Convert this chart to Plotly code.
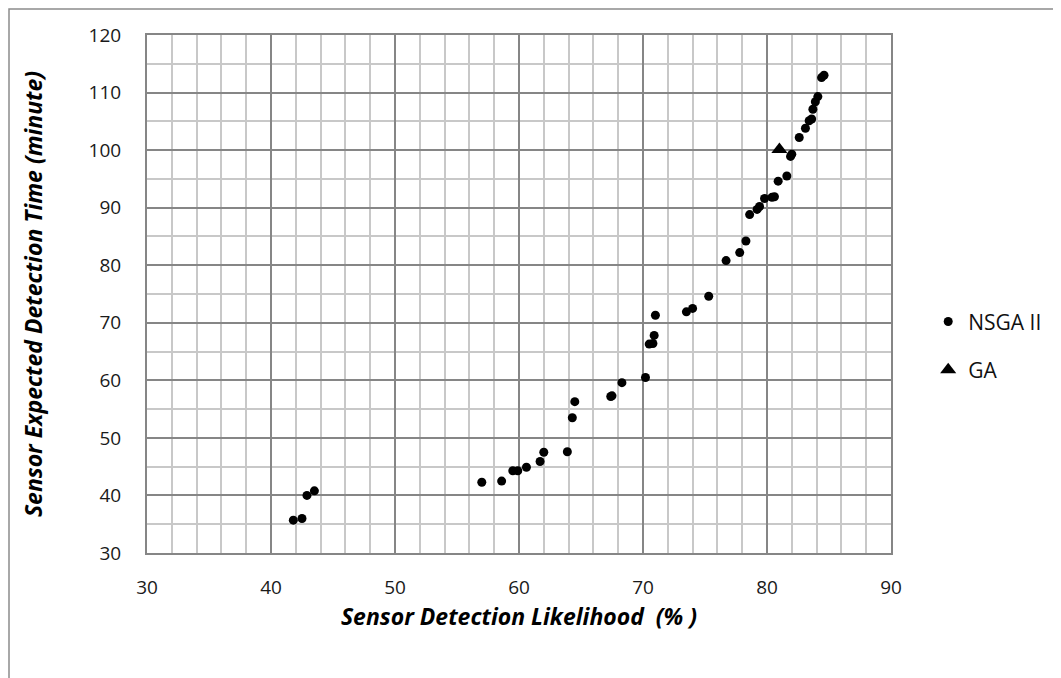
import plotly.graph_objects as go

nsga_x = [41.8, 42.5, 42.9, 43.5, 57.0, 58.6, 59.5, 59.9, 60.6, 61.7, 62.0, 63.9,
          64.3, 64.5, 67.4, 67.5, 68.3, 70.2, 70.5, 70.8, 70.9, 71.0, 73.5, 74.0,
          75.3, 76.7, 77.8, 78.3, 78.6, 79.2, 79.4, 79.8, 80.4, 80.6, 80.9, 81.6,
          81.9, 82.0, 82.6, 83.1, 83.4, 83.6, 83.7, 83.9, 84.1, 84.4, 84.6]
nsga_y = [35.7, 36.0, 40.0, 40.8, 42.3, 42.5, 44.3, 44.3, 44.9, 45.9, 47.5, 47.6,
          53.5, 56.3, 57.2, 57.3, 59.6, 60.5, 66.3, 66.4, 67.8, 71.3, 71.9, 72.5,
          74.6, 80.8, 82.2, 84.2, 88.8, 89.7, 90.2, 91.6, 91.8, 91.9, 94.6, 95.5,
          98.9, 99.3, 102.2, 103.8, 105.1, 105.4, 107.1, 108.4, 109.3, 112.6, 113.0]
ga_x = [81.0]
ga_y = [100.1]

x_ticks = [30, 40, 50, 60, 70, 80, 90]
y_ticks = [30, 40, 50, 60, 70, 80, 90, 100, 110, 120]

ML, MT, PW, PH = 139, 27, 744, 518

fig = go.Figure()
fig.add_trace(go.Scatter(x=nsga_x, y=nsga_y, mode="markers", name="NSGA II",
                         legendgroup="a",
                         marker=dict(color="black", size=9, symbol="circle")))
fig.add_trace(go.Scatter(x=ga_x, y=ga_y, mode="markers", name="GA",
                         legendgroup="b",
                         marker=dict(color="black", size=14, symbol="triangle-up")))

tick_font = dict(family="Open Sans, sans-serif", size=19, color="#1a1a1a")
title_font = dict(family="Open Sans, sans-serif", size=23, color="#000000",
                  style="italic", weight="bold")

fig.update_layout(
    width=1061, height=678,
    margin=dict(l=ML, r=1061 - ML - PW, t=MT, b=678 - MT - PH),
    paper_bgcolor="white", plot_bgcolor="white",
    showlegend=True,
    legend=dict(x=1.05, y=0.4, xanchor="left", yanchor="middle",
                font=dict(family="Open Sans, sans-serif", size=21, color="#111111"),
                tracegroupgap=18, bgcolor="rgba(0,0,0,0)"),
    xaxis=dict(range=[30, 90], tickvals=x_ticks, showgrid=True,
               gridcolor="#868686", gridwidth=2,
               minor=dict(dtick=2, showgrid=True, gridcolor="#c8c8c8", gridwidth=2),
               showline=True, linecolor="#868686", linewidth=2, mirror=True,
               zeroline=False, ticks="", tickfont=tick_font, ticklabelstandoff=16,
               title=dict(text="Sensor Detection Likelihood  (% )", font=title_font,
                          standoff=2)),
    yaxis=dict(range=[30, 120], tickvals=y_ticks, showgrid=True,
               gridcolor="#868686", gridwidth=2,
               minor=dict(dtick=5, showgrid=True, gridcolor="#c8c8c8", gridwidth=2),
               showline=True, linecolor="#868686", linewidth=2, mirror=True,
               zeroline=False, ticks="", tickfont=tick_font, ticklabelstandoff=20,
               title=dict(text="Sensor Expected Detection Time (minute)",
                          font=title_font, standoff=40)),
)

fig.add_shape(type="rect", xref="paper", yref="paper",
              x0=(1 - ML) / PW, x1=(1058 - ML) / PW,
              y0=(MT + PH - 676) / PH, y1=(MT + PH - 1) / PH,
              line=dict(color="#8c8c8c", width=1.5), fillcolor="rgba(0,0,0,0)",
              layer="below")

fig.write_html("out.html")
